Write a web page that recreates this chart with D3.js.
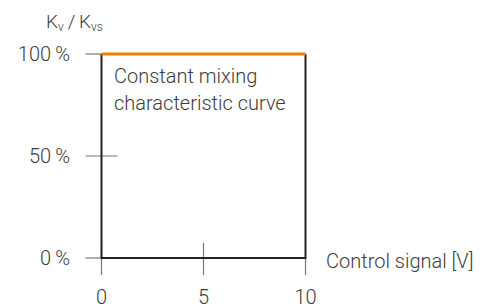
<!DOCTYPE html>
<html>
<head>
<meta charset="utf-8">
<script src="https://cdn.jsdelivr.net/npm/d3@7"></script>
<style>
  body { margin: 0; background: #fff; }
  svg text { font-family: Roboto, "Noto Sans", sans-serif; font-weight: 300; fill: #3c3c3c; }
</style>
</head>
<body>
<div id="chart"></div>
<script>
// chart values
const xTicks = [0, 5, 10];
const yTicks = [0, 50, 100];
const yTickLabels = ["0\u2009%", "50\u2009%", "100\u2009%"];
const curveX = [0, 10];
const curveY = [100, 100];
const frameX = [0, 0, 10, 10];
const frameY = [100, 0, 0, 100];

const frame_width = 492;
const frame_height = 304;

const svg = d3.select("#chart")
    .append("svg")
        .attr("width", frame_width)
        .attr("height", frame_height);

const x_scale = d3.scaleLinear().domain([0, 10]).range([101.5, 305.5]);
const y_scale = d3.scaleLinear().domain([0, 100]).range([258, 54]);

// tick marks (grey, drawn under the curve)
const tickColor = "#777";
svg.selectAll(".ytick")
    .data(yTicks)
    .enter().append("line")
        .attr("x1", x_scale(0) - 16)
        .attr("x2", d => d == 50 ? x_scale(0) + 16 : x_scale(0))
        .attr("y1", d => y_scale(d))
        .attr("y2", d => y_scale(d))
        .attr("stroke", tickColor)
        .attr("stroke-width", 1.2);

svg.selectAll(".xtick")
    .data(xTicks)
    .enter().append("line")
        .attr("x1", d => x_scale(d))
        .attr("x2", d => x_scale(d))
        .attr("y1", d => d == 10 ? y_scale(0) : y_scale(0) - 15)
        .attr("y2", y_scale(0) + 17)
        .attr("stroke", tickColor)
        .attr("stroke-width", 1.2);

// black frame: left, bottom, right
const line = d3.line().x(d => x_scale(d[0])).y(d => y_scale(d[1]));
svg.append("path")
    .attr("d", line(d3.zip(frameX, frameY)))
    .attr("fill", "none")
    .attr("stroke", "#222")
    .attr("stroke-width", 2);

// orange characteristic curve
svg.append("path")
    .attr("d", line(d3.zip(curveX, curveY)))
    .attr("fill", "none")
    .attr("stroke", "#f08000")
    .attr("stroke-width", 3);

// tick labels
svg.selectAll(".ylabel")
    .data(yTicks)
    .enter().append("text")
        .attr("x", 70)
        .attr("y", d => y_scale(d) + 7)
        .attr("text-anchor", "end")
        .attr("font-size", "20px")
        .text((d, i) => yTickLabels[i]);

svg.selectAll(".xlabel")
    .data(xTicks)
    .enter().append("text")
        .attr("x", d => x_scale(d))
        .attr("y", 304)
        .attr("text-anchor", "middle")
        .attr("font-size", "20px")
        .text(d => d);

// axis titles
const yTitle = svg.append("text")
    .attr("x", 46)
    .attr("y", 28)
    .attr("font-size", "19px");
yTitle.append("tspan").text("K");
yTitle.append("tspan").attr("font-size", "12px").attr("dy", 3).text("v");
yTitle.append("tspan").attr("dy", -3).text("\u2009/\u2009K");
yTitle.append("tspan").attr("font-size", "12px").attr("dy", 3).text("vs");

svg.append("text")
    .attr("x", 326)
    .attr("y", 268)
    .attr("font-size", "20px")
    .text("Control signal [V]");

svg.append("text")
    .attr("x", 114)
    .attr("y", 83)
    .attr("font-size", "20px")
    .text("Constant mixing");
svg.append("text")
    .attr("x", 114)
    .attr("y", 110)
    .attr("font-size", "20px")
    .text("characteristic curve");
</script>
</body>
</html>
